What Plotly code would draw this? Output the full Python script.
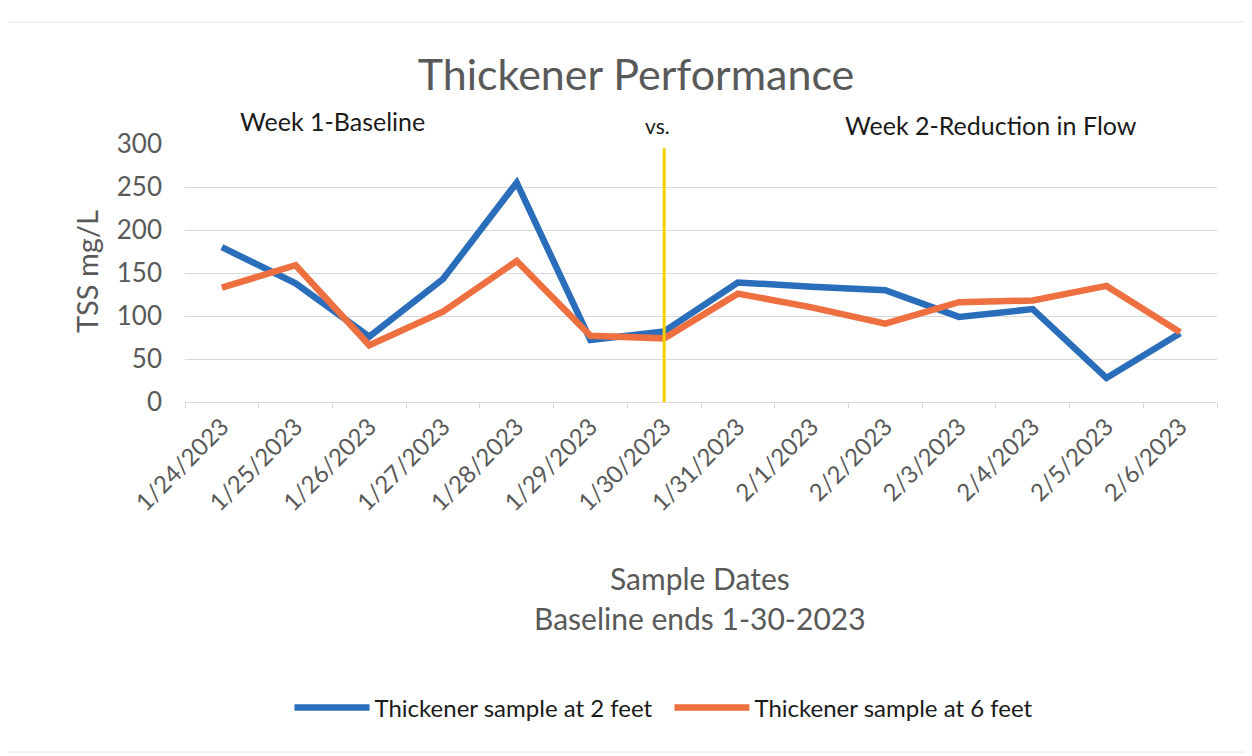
import plotly.graph_objects as go

dates = ["1/24/2023", "1/25/2023", "1/26/2023", "1/27/2023", "1/28/2023", "1/29/2023",
         "1/30/2023", "1/31/2023", "2/1/2023", "2/2/2023", "2/3/2023", "2/4/2023",
         "2/5/2023", "2/6/2023"]
sample_2ft = [180, 138, 76, 143, 255, 72, 82, 139, 134, 130, 99, 108, 28, 80]
sample_6ft = [133, 159, 66, 105, 164, 77, 74, 126, 110, 91, 116, 118, 135, 81]
y_ticks = [0, 50, 100, 150, 200, 250, 300]
baseline_end = "1/30/2023"
divider_top = 295

FONT = "Lato"
GRAY = "#595959"
DARK = "#1a1a1a"

# page offset (browser body margin)
OFF = 8
FW, FH = 1252 - OFF, 756 - OFF
# plot area in page pixels: left 185, right 1217, top 144, bottom 402
L, R, T, B = 185, 1217, 144, 402
W, H = R - L, B - T


def px(x):
    return (x - L) / W


def py(y):
    return (B - y) / H


fig = go.Figure()
fig.add_trace(go.Scatter(x=dates, y=sample_2ft, mode="lines", name="Thickener sample at 2 feet  ",
                         line=dict(color="#2a6ebb", width=6.5)))
fig.add_trace(go.Scatter(x=dates, y=sample_6ft, mode="lines", name="Thickener sample at 6 feet",
                         line=dict(color="#ee7040", width=6.5)))

fig.add_shape(type="line", xref="x", yref="y", x0=baseline_end, x1=baseline_end,
              y0=0, y1=divider_top, line=dict(color="#f5d000", width=3))

# faint chart border
fig.add_shape(type="rect", xref="paper", yref="paper", x0=px(5), x1=px(1247),
              y0=py(752), y1=py(22), line=dict(color="#e6e6e6", width=1), layer="below")

annots = [
    dict(text="Week 1-Baseline", x=px(332), y=py(121), size=25),
    dict(text="vs.", x=px(657), y=py(125), size=21),
    dict(text="Week 2-Reduction in Flow", x=px(991), y=py(125), size=25),
]
for a in annots:
    fig.add_annotation(text=a["text"], x=a["x"], y=a["y"], xref="paper", yref="paper",
                       showarrow=False, xanchor="center", yanchor="middle",
                       font=dict(family=FONT, size=a["size"], color=DARK))

fig.add_annotation(text="Sample Dates", x=px(700), y=py(578), xref="paper", yref="paper",
                   showarrow=False, xanchor="center", yanchor="middle",
                   font=dict(family=FONT, size=30, color=GRAY))
fig.add_annotation(text="Baseline ends 1-30-2023", x=px(700), y=py(618), xref="paper", yref="paper",
                   showarrow=False, xanchor="center", yanchor="middle",
                   font=dict(family=FONT, size=30, color=GRAY))
fig.add_annotation(text="TSS mg/L", x=px(86), y=py(272), xref="paper", yref="paper",
                   showarrow=False, xanchor="center", yanchor="middle", textangle=-90,
                   font=dict(family=FONT, size=29, color=GRAY))

fig.update_layout(
    width=FW, height=FH,
    margin=dict(l=L - OFF, r=1252 - R, t=T - OFF, b=756 - B),
    paper_bgcolor="white", plot_bgcolor="white",
    title=dict(text="Thickener Performance", x=(636 - OFF) / FW, y=1 - (75 - OFF) / FH,
               xanchor="center", yanchor="middle",
               font=dict(family=FONT, size=43, color=GRAY)),
    showlegend=True,
    legend=dict(orientation="h", x=px(664), y=py(708), xanchor="center", yanchor="middle",
                font=dict(family=FONT, size=24, color=DARK), itemwidth=75,
                bgcolor="rgba(0,0,0,0)"),
)
fig.update_xaxes(type="category", categoryorder="array", categoryarray=dates,
                 range=[-0.5, len(dates) - 0.5],
                 tickangle=-45, tickfont=dict(family=FONT, size=24, color=GRAY),
                 showgrid=False, showline=True, linecolor="#d9d9d9", linewidth=1,
                 ticks="outside", tickson="boundaries", ticklen=5, tickcolor="#d9d9d9",
                 zeroline=False)
fig.update_yaxes(range=[0, 300], tickvals=y_ticks, showgrid=True, gridcolor="#d9d9d9",
                 gridwidth=1, zeroline=False, showline=False, ticks="",
                 ticklabelstandoff=22,
                 tickfont=dict(family=FONT, size=26, color=GRAY))

fig.write_html("out.html")
